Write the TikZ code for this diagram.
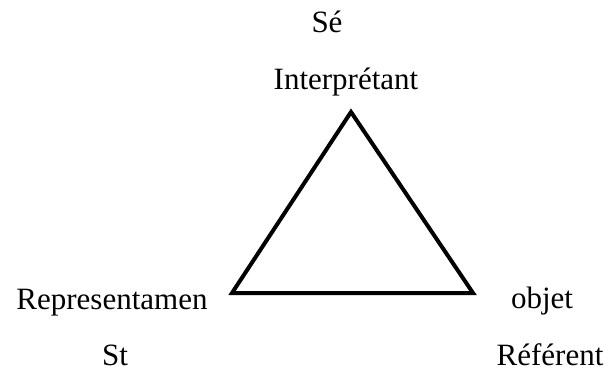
\documentclass[tikz,border=0pt]{standalone}
\usepackage{fontspec}
\setmainfont{Liberation Serif}
\begin{document}
\begin{tikzpicture}[x=1pt,y=1pt,
  lbl/.style={anchor=base,inner sep=0pt,font=\fontsize{31}{36}\selectfont,text=black},
  tri/.style={line width=4pt,line join=miter,black}]
\useasboundingbox (0,0) rectangle (609,372);
\node[lbl] (se) at (327,339) {Sé};
\node[lbl] (interp) at (346,282) {Interprétant};
\node[lbl] (repr) at (112,63) {Representamen};
\node[lbl] (st) at (115,7) {St};
\node[lbl] (objet) at (542,64) {objet};
\node[lbl] (ref) at (550,7) {Référent};
\coordinate (top) at (351,260);
\coordinate (bl) at (232,79);
\coordinate (br) at (473,79);
\draw[tri] (top) -- (bl) -- (br) -- cycle;
\end{tikzpicture}
\end{document}
